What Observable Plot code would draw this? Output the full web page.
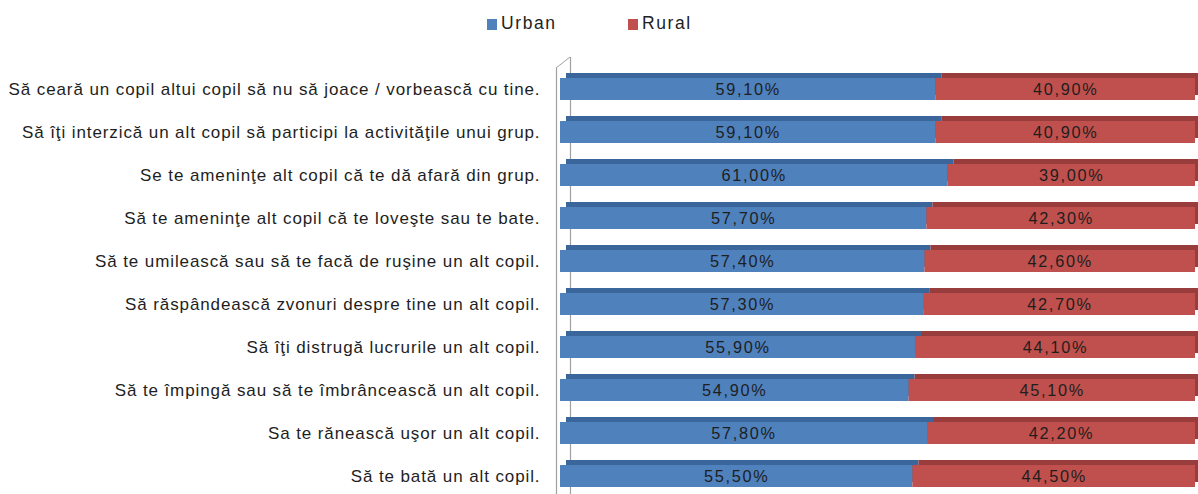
<!DOCTYPE html>
<html>
<head>
<meta charset="utf-8">
<script src="https://cdn.jsdelivr.net/npm/d3@7"></script>
<script src="https://cdn.jsdelivr.net/npm/@observablehq/plot@0.6"></script>
<style>
  html, body { margin: 0; padding: 0; background: #fff; }
  body { width: 1198px; height: 494px; overflow: hidden; font-family: "Liberation Sans", Arial, sans-serif; }
  #legend { position: relative; height: 45px; font-size: 17.5px; letter-spacing: 1.6px; color: #222; }
  .sw { position: absolute; top: 19px; width: 10px; height: 11px; }
  .lt { position: absolute; top: 13px; line-height: 20px; }
  #chart text { letter-spacing: 0.9px; }
  #chart g.vals text { letter-spacing: 1.7px; }
</style>
</head>
<body>
<div id="legend"></div>
<div id="chart"></div>
<script>
const categories = [
  "Să ceară un copil altui copil să nu să joace / vorbească cu tine.",
  "Să îţi interzică un alt copil să participi la activităţile unui grup.",
  "Se te ameninţe alt copil că te dă afară din grup.",
  "Să te ameninţe alt copil că te loveşte sau te bate.",
  "Să te umilească sau să te facă de ruşine un alt copil.",
  "Să răspândească zvonuri despre tine un alt copil.",
  "Să îţi distrugă lucrurile un alt copil.",
  "Să te împingă sau să te îmbrâncească un alt copil.",
  "Sa te rănească uşor un alt copil.",
  "Să te bată un alt copil."
];
const urban = [59.1, 59.1, 61.0, 57.7, 57.4, 57.3, 55.9, 54.9, 57.8, 55.5];
const rural = [40.9, 40.9, 39.0, 42.3, 42.6, 42.7, 44.1, 45.1, 42.2, 44.5];
const seriesNames = ["Urban", "Rural"];
const frontColors = ["#4f81bd", "#c0504d"];
const topColors = ["#3a669b", "#983d3b"];

const data = [];
categories.forEach((c, i) => {
  data.push({cat: c, group: "Urban", value: urban[i]});
  data.push({cat: c, group: "Rural", value: rural[i]});
});
const fmt = v => v.toFixed(2).replace(".", ",") + "%";

// legend (HTML, above the SVG)
const legend = document.getElementById("legend");
const swLeft = [487, 628];
const txtLeft = [501, 642];
seriesNames.forEach((s, i) => {
  const sw = document.createElement("div");
  sw.className = "sw";
  sw.style.left = swLeft[i] + "px";
  sw.style.background = frontColors[i];
  legend.appendChild(sw);
  const t = document.createElement("div");
  t.className = "lt";
  t.style.left = txtLeft[i] + "px";
  t.textContent = s;
  legend.appendChild(t);
});

const topColor = d => topColors[seriesNames.indexOf(d.group)];

// slanted top edge of the chart wall, from the scales
const wallTop = (index, scales, values, dim) => {
  const x0 = scales.x(0);
  const p = document.createElementNS("http://www.w3.org/2000/svg", "path");
  p.setAttribute("d", `M${x0 - 4},${dim.marginTop - 7.5}L${x0 + 10},${dim.marginTop - 18.5}`);
  p.setAttribute("stroke", "#a0a0a0");
  p.setAttribute("fill", "none");
  return p;
};

const chart = Plot.plot({
  width: 1198,
  height: 449,
  marginLeft: 560,
  marginRight: 3,
  marginTop: 30.5,
  marginBottom: 4.5,
  style: {fontFamily: "Liberation Sans, Arial, sans-serif", fontSize: "17px", color: "#222", background: "transparent"},
  x: {domain: [0, 100], axis: null},
  y: {domain: categories, paddingInner: 0.495, paddingOuter: 0, axis: null},
  color: {domain: seriesNames, range: frontColors},
  marks: [
    Plot.ruleX([0], {dx: 10, insetTop: -18.5, insetBottom: -10, stroke: "#a0a0a0", strokeWidth: 1.2}),
    Plot.ruleX([0], {dx: -4, insetTop: -7.5, insetBottom: -10, stroke: "#a0a0a0", strokeWidth: 1.2}),
    wallTop,
    Plot.barX(data, Plot.stackX({x: "value", y: "cat", fill: topColor, dx: 6, dy: -5})),
    Plot.barX(data, Plot.stackX({x: "value", y: "cat", fill: "group"})),
    Plot.text(data, Plot.stackX({x: "value", y: "cat", z: "group", text: d => fmt(d.value), fill: "#1e1e1e", fontSize: 16.3, className: "vals"})),
    Plot.axisY({tickSize: 0, tickPadding: 20, fontSize: 17, label: null, fill: "#1e1e1e"})
  ]
});
document.getElementById("chart").appendChild(chart);
</script>
</body>
</html>
